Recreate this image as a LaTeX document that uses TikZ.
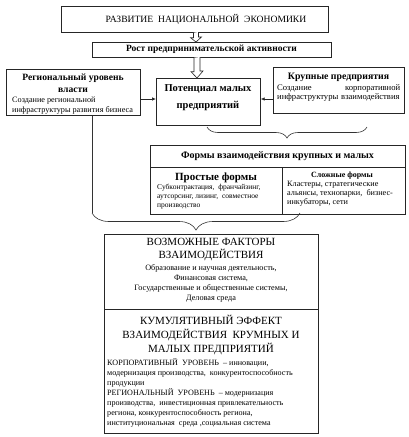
\documentclass[tikz,border=0pt]{standalone}
\usepackage{fontspec}
\setmainfont{Liberation Serif}
\usetikzlibrary{decorations.pathreplacing,calc,arrows.meta}
\newcommand\fsz[2]{\fontsize{#1}{#2}\selectfont}
\begin{document}
\begin{tikzpicture}[x=1pt,y=-1pt,
  box/.style={draw=black!85, line width=0.7pt, inner sep=0, anchor=north west},
  txt/.style={inner sep=0, align=center},
  ltxt/.style={inner sep=0, align=left, anchor=west},
  hollow/.style={draw=black!85, line width=0.6pt, fill=white},
  conn/.style={draw=black!85, line width=0.7pt, -{Latex[length=4pt,width=3.5pt]}},
  brc/.style={draw=black!80, line width=0.6pt, decorate}]
\useasboundingbox (0,0) rectangle (408,437);
% boxes
\node[box, minimum width=267, minimum height=26] (top) at (61,6) {};
\node[box, minimum width=239, minimum height=15] (rost) at (92,42) {};
\node[box, minimum width=134, minimum height=46] (left) at (6,69) {};
\node[box, minimum width=104, minimum height=47] (cen) at (156,78) {};
\node[box, minimum width=131, minimum height=46] (right) at (273,67) {};
\node[box, minimum width=255, minimum height=69] (forms) at (150,145) {};
\node[box, minimum width=214, minimum height=75] (fact) at (104,234) {};
\node[box, minimum width=214, minimum height=124] (cum) at (104,309) {};
\coordinate (hl) at (150,167);
\coordinate (vd) at (282,167);
\draw[draw=black!85, line width=0.7pt] (hl) -- (hl -| forms.east);
\draw[draw=black!85, line width=0.7pt] (vd) -- (vd |- forms.south);
% texts
\node[txt, font=\fsz{9.6}{12}] (t1) at (206,19) {РАЗВИТИЕ\ \ НАЦИОНАЛЬНОЙ\ \ ЭКОНОМИКИ};
\node[txt, font=\bfseries\fsz{9.5}{11}] (t2) at (211.5,49.5) {Рост предпринимательской активности};
\node[txt, font=\bfseries\fsz{9.6}{12}] (t3) at (73,83) {Региональный уровень\\власти};
\node[ltxt, font=\fsz{8.2}{10}] (t4) at (12,106) {Создание региональной\\инфраструктуры развития бизнеса};
\node[txt, font=\bfseries\fsz{10.5}{17}] (t5) at (208,97.5) {Потенциал малых\\предприятий};
\node[txt, font=\bfseries\fsz{9.8}{12}] (t6) at (338.5,77) {Крупные предприятия};
\node[ltxt, font=\fsz{8.6}{9}, text width=123] (t7) at (277,93) {Создание \hfill корпоративной\\инфраструктуры взаимодействия};
\node[txt, font=\bfseries\fsz{10}{12}] (t8) at (277.5,156) {Формы взаимодействия крупных и малых};
\node[txt, font=\bfseries\fsz{11}{12}] (t9) at (216,178) {Простые формы};
\node[ltxt, font=\fsz{7.5}{9}] (t10) at (157,197) {Субконтрактация,\ \ франчайзинг,\\аутсорсинг, лизинг,\ \ совместное\\производство};
\node[txt, font=\bfseries\fsz{8}{10}] (t11) at (342,176) {Сложные формы};
\node[ltxt, font=\fsz{8.2}{9}] (t12) at (287,194) {Кластеры,\ стратегические\\альянсы, технопарки,\ \ бизнес-\\инкубаторы, сети};
\node[txt, font=\fsz{11}{13}] (t13) at (211,249.5) {ВОЗМОЖНЫЕ ФАКТОРЫ\\ВЗАИМОДЕЙСТВИЯ};
\node[txt, font=\fsz{8.2}{10}] (t14) at (211,283) {Образование и научная деятельность,\\Финансовая система,\\Государственные и общественные системы,\\Деловая среда};
\node[txt, font=\fsz{11}{14}] (t15) at (211,335) {КУМУЛЯТИВНЫЙ ЭФФЕКТ\\ВЗАИМОДЕЙСТВИЯ\ \ КРУМНЫХ И\\МАЛЫХ ПРЕДПРИЯТИЙ};
\node[ltxt, font=\fsz{8.1}{10}] (t16) at (107,393) {КОРПОРАТИВНЫЙ\ \ УРОВЕНЬ\ \ -- инновации,\\модернизация производства,\ \ конкурентоспособность\\продукции\\РЕГИОНАЛЬНЫЙ\ \ УРОВЕНЬ\ \ -- модернизация\\производства,\ \ инвестиционная привлекательность\\региона, конкурентоспособность региона,\\институциональная\ \ среда ,социальная система};
% hollow arrows
\coordinate (ax) at (196,0);
\coordinate (ay) at (197,0);
\draw[hollow] (top.south -| ax) ++(-2.5,0) -- ++(0,5) -- ++(-3,0) -- (rost.north -| ax) -- ++(5.5,-5) -- ++(-3,0) -- ++(0,-5);
\draw[hollow] (rost.south -| ay) ++(-3,0) -- ++(0,14) -- ++(-3,0) -- (cen.north -| ay) -- ++(6,-7) -- ++(-3,0) -- ++(0,-14);
% side arrows
\coordinate (lvl) at (0,99);
\draw[conn] (left.east |- lvl) -- (cen.west |- lvl);
\draw[conn] (right.west |- lvl) -- (cen.east |- lvl);
% braces
\coordinate (s1) at (207,127);
\coordinate (s2) at (367,127);
\draw[brc, decoration={brace, mirror, amplitude=11}] (s1) -- (s2);
\coordinate (b1) at (92,213);
\coordinate (b2) at (300,213);
\draw[draw=black!80, line width=0.6pt] (left.south -| b1) -- (b1);
\draw[brc, decoration={brace, mirror, amplitude=17}] (b1) -- (b2);
\end{tikzpicture}
\end{document}
